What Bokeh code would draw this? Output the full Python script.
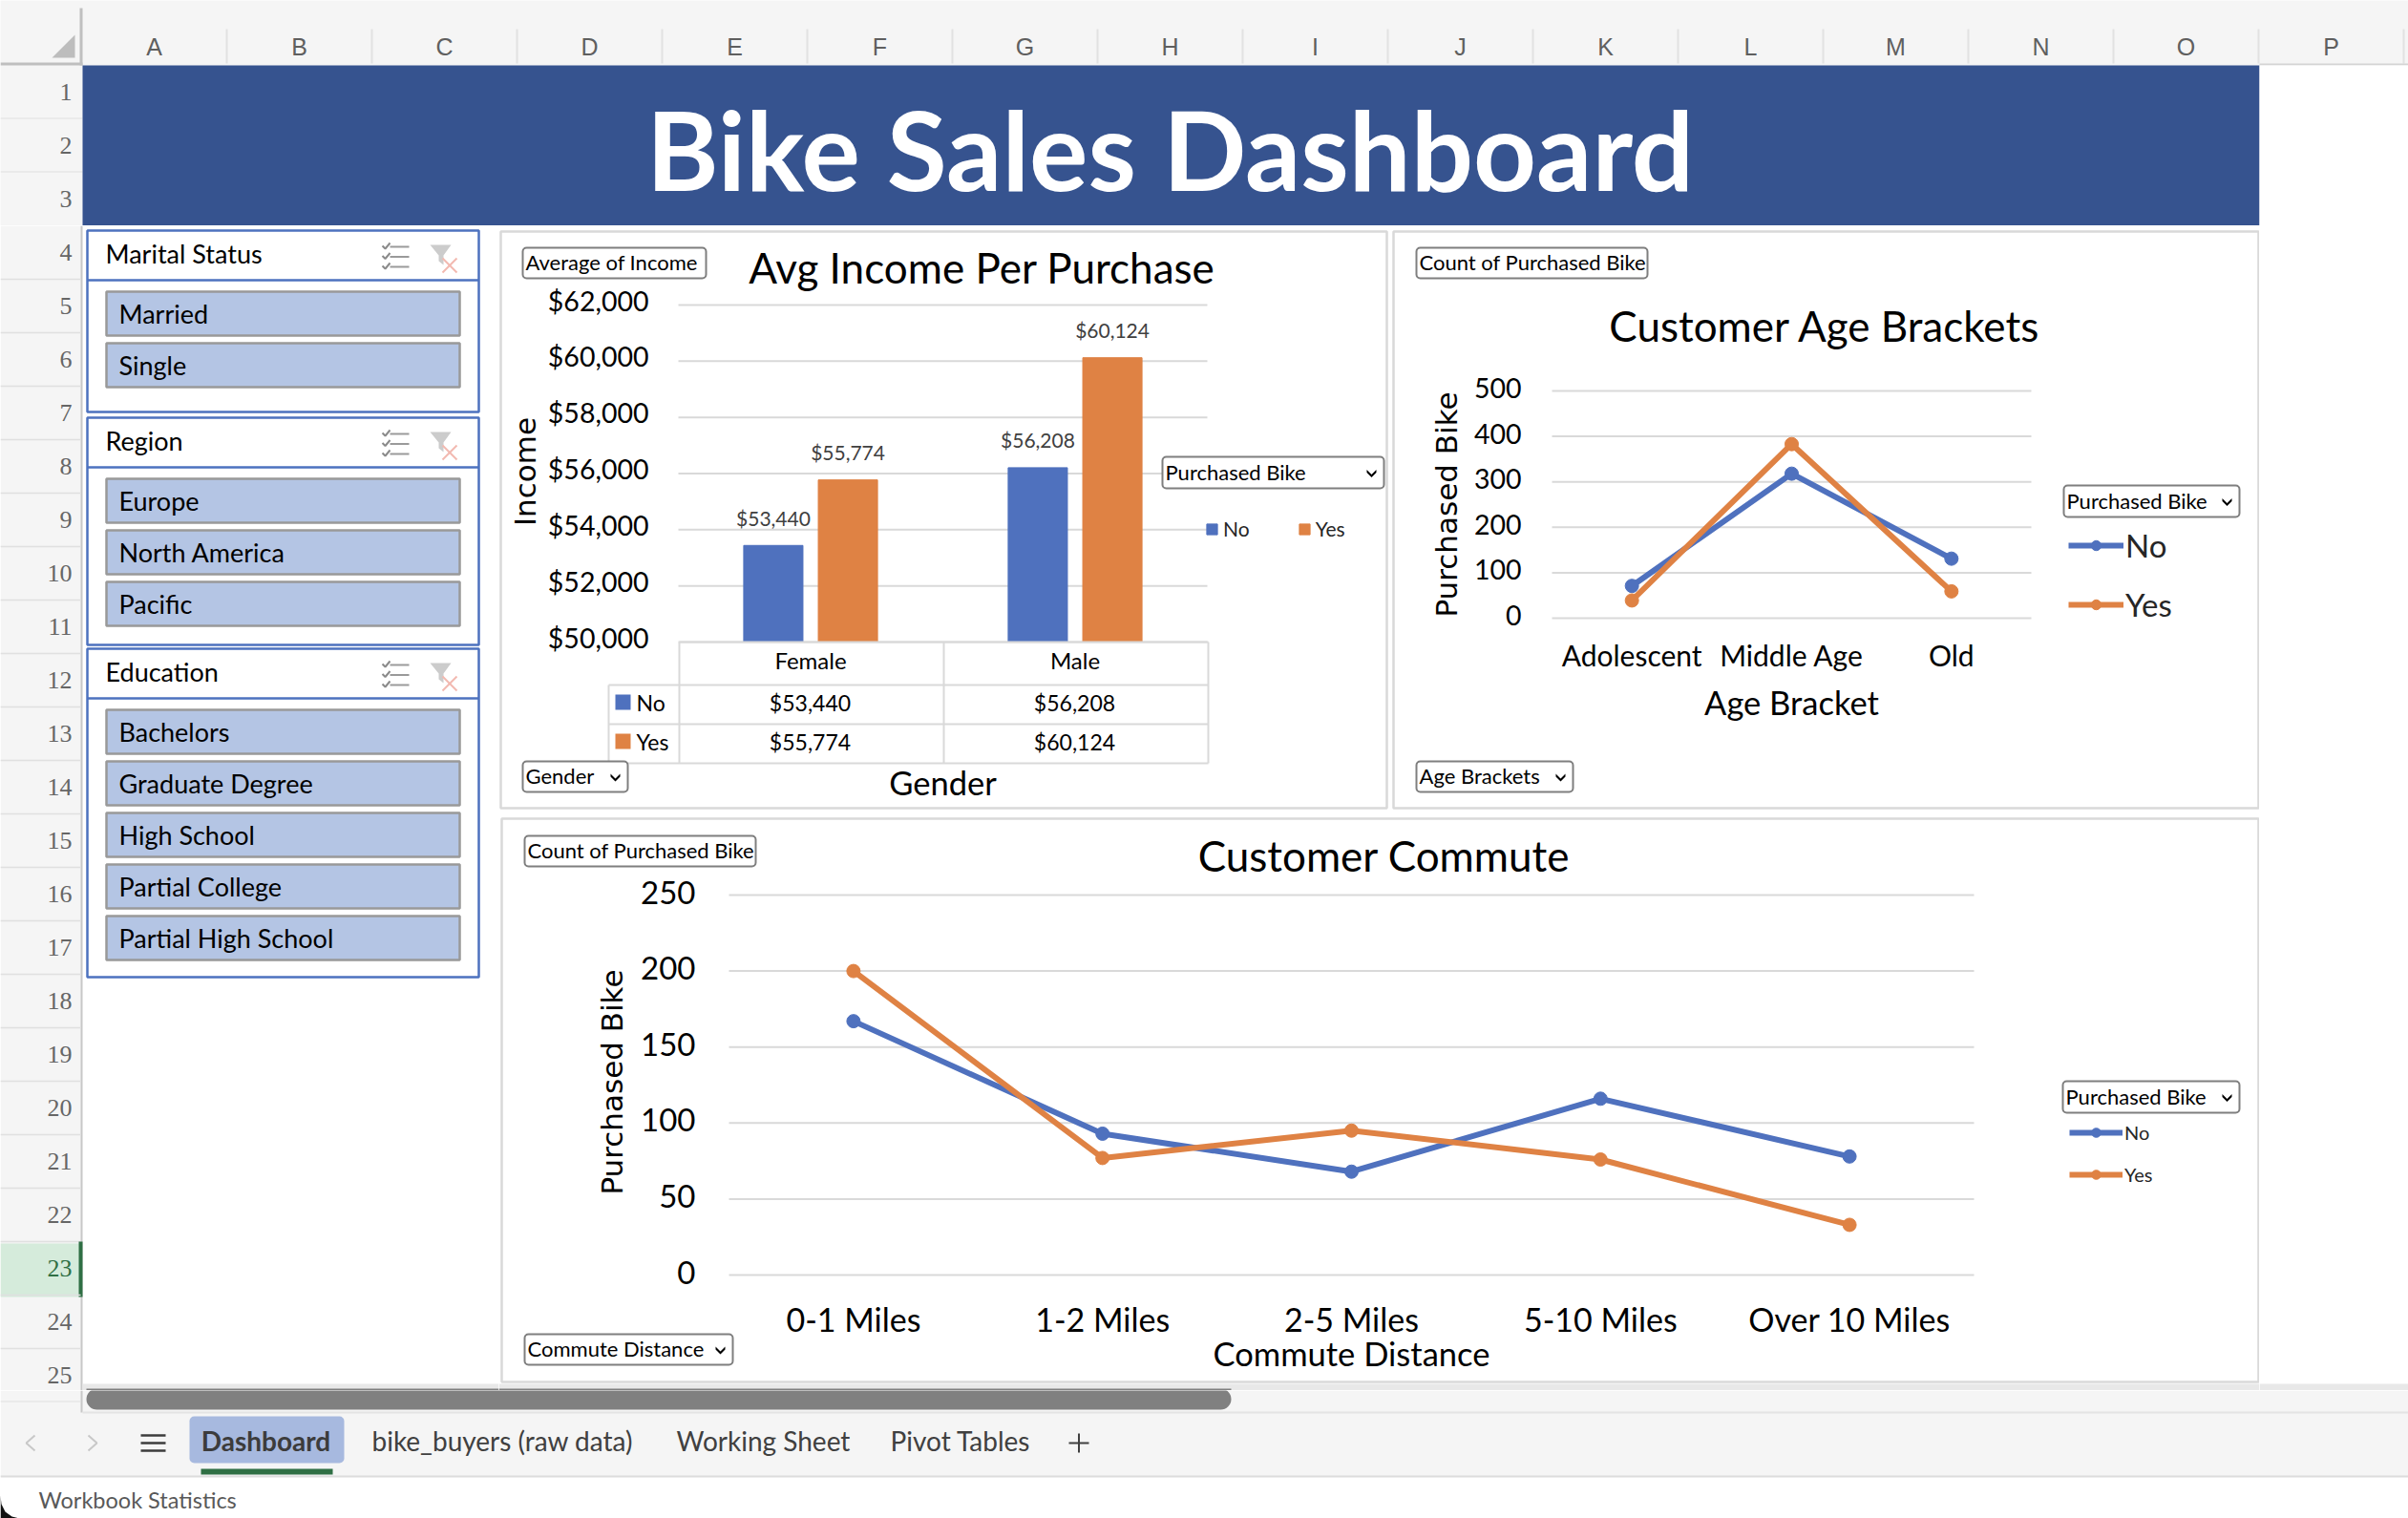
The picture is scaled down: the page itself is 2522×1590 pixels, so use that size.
from bokeh.plotting import figure
from bokeh.layouts import column, row
from bokeh.models import (Range1d, FixedTicker, NumeralTickFormatter, Label, BoxAnnotation,
                          Legend, LegendItem, ColumnDataSource)
from bokeh.core.properties import value
from bokeh.embed import file_html
from bokeh.resources import INLINE

# ---------- data ----------
genders = ["Female", "Male"]
income_no = [53440, 56208]
income_yes = [55774, 60124]
income_ticks = [50000, 52000, 54000, 56000, 58000, 60000, 62000]

age_brackets = ["Adolescent", "Middle Age", "Old"]
age_no = [71, 318, 131]
age_yes = [39, 383, 59]
age_ticks = [0, 100, 200, 300, 400, 500]

commute = ["0-1 Miles", "1-2 Miles", "2-5 Miles", "5-10 Miles", "Over 10 Miles"]
commute_no = [167, 93, 68, 116, 78]
commute_yes = [200, 77, 95, 76, 33]
commute_ticks = [0, 50, 100, 150, 200, 250]

marital = ["Married", "Single"]
regions = ["Europe", "North America", "Pacific"]
education = ["Bachelors", "Graduate Degree", "High School", "Partial College", "Partial High School"]
col_letters = list("ABCDEFGHIJKLMNOP")
sheets = ["bike_buyers (raw data)", "Working Sheet", "Pivot Tables"]

# ---------- style ----------
BLUE, ORANGE = "#4f71be", "#df8244"
GRID = "#d9d9d9"
BAND = "#e8e8e8"
THUMB = "#808080"
FONT = "Lato"
WIDE = "DejaVu Sans"
SPLIT = 1456  # page y where the bottom strip starts


def base(l, t, r, b, bg="white"):
    p = figure(width=r - l, height=b - t, x_range=Range1d(l, r), y_range=Range1d(b, t),
               x_axis_type=None, y_axis_type=None, output_backend="svg", toolbar_location=None,
               min_border=0, outline_line_color=None, background_fill_color=bg, border_fill_color=bg)
    p.grid.visible = False
    return p


def rects(p, l, t, r, b, fill, line=None, lw=0, **kw):
    p.quad(left=[l], right=[r], top=[t], bottom=[b], fill_color=fill,
           line_color=line, line_width=lw, **kw)


def txt(p, x, y, s, size, color="black", align="left", font=FONT, style="normal"):
    p.text([x], [y], text=[s], text_font=value(font), text_font_size=value(f"{size}px"),
           text_color=color, text_align=align, text_baseline="middle", text_font_style=style)


# ---------- top strip ----------
top = base(0, 0, 2522, 236, "#f5f5f5")
for i, c in enumerate(col_letters):
    txt(top, 161 + 152 * i, 48, c, 25, "#5f5f5f", "center", "Liberation Sans")
    top.segment([237 + 152 * i], [30], [237 + 152 * i], [66], color="#e2e2e2", line_width=2)
rects(top, 0, 65, 86, 68, "#bfbfbf")
rects(top, 83, 8, 86, 68, "#bfbfbf")
top.patch([78, 78, 54], [36, 60, 60], fill_color="#bdbdbd", line_color=None)
rects(top, 0, 123, 86, 124, "#e0e0e0")
rects(top, 0, 179, 86, 180, "#e0e0e0")
for i in range(3):
    txt(top, 75, 96 + 56 * i, str(i + 1), 26, "#666666", "right", "Liberation Serif")
rects(top, 86, 68, 2366, 236, "#36538f")
rects(top, 2366, 66, 2522, 68, "#d4d4d4")
rects(top, 2366, 68, 2522, 236, "white")
txt(top, 1225, 154, "Bike Sales Dashboard", 115, "white", "center", FONT, "bold")

# ---------- left strip ----------
left = base(0, 236, 522, SPLIT)
rects(left, 0, 236, 85, SPLIT, "#f5f5f5")
rects(left, 84, 236, 86, SPLIT, "#c8c8c8")
rects(left, 86, 1449, 522, SPLIT, BAND)
rects(left, 90, 1454, 522, SPLIT, THUMB)
for i in range(3, 25):
    y = 68 + 56 * i
    if i + 1 == 23:
        rects(left, 0, y + 2, 84, y + 58, "#d5ebdb")
        rects(left, 82, y, 86, y + 58, "#2f6f44")
        txt(left, 75, y + 28, str(i + 1), 26, "#2f6f44", "right", "Liberation Serif")
    else:
        txt(left, 75, y + 28, str(i + 1), 26, "#666666", "right", "Liberation Serif")
    if y + 56 < SPLIT:
        left.segment([0], [y + 56], [84], [y + 56], color="#e0e0e0", line_width=1.5)


def slicer(title, items, t, b, hdr, tops):
    rects(left, 91, t, 501, b, "white", "#4d72bf", 2.5)
    left.segment([91], [hdr], [501], [hdr], color="#4d72bf", line_width=2.5)
    txt(left, 110, t + (hdr - t) / 2 - 2, title, 27)
    for it, (bt, bb) in zip(items, tops):
        rects(left, 111, bt, 481, bb, "#b4c5e4", "#999999", 2.5)
        txt(left, 124, (bt + bb) / 2, it, 27)
    # select / clear-filter icons
    y0 = t + 17
    left.multi_line([[408, 428]] * 3, [[y0 + k * 10.5] * 2 for k in range(3)], color="#9a9a9a", line_width=2)
    left.multi_line([[400, 403, 408]] * 3,
                    [[y0 + k * 10.5 - 1, y0 + k * 10.5 + 2, y0 + k * 10.5 - 4] for k in range(3)],
                    color="#8a8a8a", line_width=2)
    left.patch([450, 472, 464, 464, 459, 459], [y0 - 2, y0 - 2, y0 + 9, y0 + 19, y0 + 15, y0 + 9],
               fill_color="#cccccc", line_color=None)
    left.multi_line([[463, 478], [463, 478]], [[y0 + 12, y0 + 27], [y0 + 27, y0 + 12]],
                    color="#f2b9b0", line_width=2)


slicer("Marital Status", marital, 241, 431, 293, [(305, 351), (359, 405)])
slicer("Region", regions, 437, 675, 489, [(501, 547), (555, 601), (609, 655)])
slicer("Education", education, 679, 1023, 731,
       [(743, 789), (797, 843), (851, 897), (905, 951), (959, 1005)])

# ---------- right strip (empty column P) ----------
right = base(2366, 236, 2522, SPLIT)
rects(right, 2366, 1449, 2522, SPLIT, BAND)


# ---------- chart helpers ----------
def extend(a0, a1, v0, v1, o0, o1, shift=0):
    """Data range that keeps v0..v1 on pixels a0..a1 when the frame spans pixels o0..o1."""
    k = (v1 - v0) / (a1 - a0)
    return Range1d(v0 + (o0 - a0 + shift) * k, v0 + (o1 - a0 + shift) * k)


def chart(outer, frame, cats, ymin, ymax, ticks, xlabel, ylabel, yfmt=None, ytick="33px", xtick="33px",
          label_standoff=30, title_standoff=10, y_standoff=30, ytitle_standoff=6, lift=3, title_drop=0):
    l, t, r, b = outer
    fl, ft, fr, fb = frame
    n = len(cats)
    p = figure(width=r - l, height=b - t,
               x_range=extend(fl, fr, 0, n, l, r), y_range=extend(fb, ft, ymin, ymax, b, t),
               min_border=0, output_backend="svg", toolbar_location=None, outline_line_color=None)
    p.extra_x_ranges["px"] = Range1d(l, r)
    p.extra_y_ranges["px"] = Range1d(b, t)
    # tick labels sit a few pixels above their rules, as in the reference
    p.extra_y_ranges["ticks"] = extend(fb, ft, ymin, ymax, b, t, shift=lift)
    p.yaxis.y_range_name = "ticks"
    p.grid.visible = False
    p.segment(x0=[0] * len(ticks), x1=[n] * len(ticks), y0=ticks, y1=ticks,
              line_color=GRID, line_width=2, level="underlay")
    p.yaxis.ticker = FixedTicker(ticks=ticks)
    p.xaxis.ticker = FixedTicker(ticks=[i + 0.5 for i in range(n)])
    p.xaxis.major_label_overrides = {i + 0.5: c for i, c in enumerate(cats)}
    p.xaxis.fixed_location = ymin
    p.yaxis.fixed_location = 0
    p.xaxis.bounds = (0, n)
    k = (ymax - ymin) / (fb - ft)
    p.yaxis.bounds = (ymin - 2 * title_drop * k, ymax)  # centres the axis title
    if yfmt:
        p.yaxis.formatter = NumeralTickFormatter(format=yfmt)
    for ax in (p.xaxis[0], p.yaxis[0]):
        ax.axis_line_color = None
        ax.major_tick_line_color = None
        ax.minor_tick_line_color = None
        ax.major_label_text_font = FONT
        ax.major_label_text_color = "black"
        ax.axis_label_text_font_style = "normal"
        ax.axis_label_text_color = "black"
    p.xaxis.major_label_text_font_size = xtick
    p.yaxis.major_label_text_font_size = ytick
    p.xaxis.axis_label = xlabel
    p.xaxis.axis_label_text_font = FONT
    p.xaxis.axis_label_text_font_size = "34.5px"
    p.xaxis.major_label_standoff = label_standoff
    p.xaxis.axis_label_standoff = title_standoff
    p.yaxis.axis_label = ylabel
    p.yaxis.axis_label_text_font = WIDE
    p.yaxis.axis_label_text_font_size = "31px"
    p.yaxis.major_label_standoff = y_standoff
    p.yaxis.axis_label_standoff = ytitle_standoff
    return p


def box(p, l, t, r, b, fill="white", line="#7f7f7f", lw=2, radius=4):
    p.add_layout(BoxAnnotation(left=l, right=r, top=t, bottom=b, x_range_name="px", y_range_name="px",
                               fill_color=fill, fill_alpha=1 if fill else 0, line_color=line, line_alpha=1,
                               line_width=lw, border_radius=radius))


def lab(p, x, y, s, size=22, color="black", align="left", font=FONT):
    p.add_layout(Label(x=x, y=y, text=s, x_range_name="px", y_range_name="px", text_font=font,
                       text_font_size=f"{size}px", text_color=color, text_align=align, text_baseline="middle"))


def dropdown(p, l, t, r, b, s, chevron=True):
    box(p, l, t, r, b)
    lab(p, l + 3, (t + b) / 2 - 1, s)
    if chevron:
        cx, cy = r - 13, (t + b) / 2
        p.patch([cx - 5, cx, cx + 5, cx + 5, cx, cx - 5], [cy - 3, cy + 2, cy - 3, cy, cy + 5, cy],
                x_range_name="px", y_range_name="px", fill_color="black", line_color=None, level="overlay")


def legend(p, items, loc, size, gw, gh, spacing, orient="vertical", standoff=2):
    p.add_layout(Legend(items=[LegendItem(label=n, renderers=r) for n, r in items], location=loc,
                        orientation=orient, spacing=spacing, padding=0, margin=0,
                        background_fill_alpha=0, border_line_alpha=0, label_standoff=standoff,
                        glyph_width=gw, glyph_height=gh, label_text_font=FONT,
                        label_text_font_size=f"{size}px", label_text_color="#262626"))


def series(p, cats, y, c, lw=6, size=14):
    x = [i + 0.5 for i in range(len(cats))]
    l = p.line(x, y, line_color=c, line_width=lw)
    m = p.scatter(x, y, size=size, marker="circle", fill_color=c, line_color=c)
    return [l, m]


# ---------- chart 1 ----------
c1 = chart((522, 236, 1456, 852), (710, 319, 1264, 672), genders, 50000, 62000, income_ticks,
           "Gender", "Income", "$0,0", ytick="28.5px", xtick="24px",
           label_standoff=-2, title_standoff=90, y_standoff=25, ytitle_standoff=3, lift=5, title_drop=3)
box(c1, 524, 242, 1452, 846, None, GRID, 2.5, 0)
OFF, BW = 0.141, 0.224
src = ColumnDataSource(dict(xno=[i + 0.5 - OFF for i in range(2)], xyes=[i + 0.5 + OFF for i in range(2)],
                            no=income_no, yes=income_yes,
                            no_t=[f"${v:,}" for v in income_no], yes_t=[f"${v:,}" for v in income_yes]))
r_no = c1.vbar(x="xno", top="no", bottom=50000, width=BW, source=src, color=BLUE)
r_yes = c1.vbar(x="xyes", top="yes", bottom=50000, width=BW, source=src, color=ORANGE)
for xc, col, tx in (("xno", "no", "no_t"), ("xyes", "yes", "yes_t")):
    c1.text(x=xc, y=col, text=tx, source=src, y_offset=-29,
            text_font=value(FONT), text_font_size=value("21px"), text_color="#404040",
            text_align="center", text_baseline="middle")
# data table under the plot
for y, xa, xb in ((672, 711, 1265), (717, 637, 1265), (758, 637, 1265), (799, 637, 1265)):
    box(c1, xa, y - 1, xb, y + 1, GRID, None, 0, 0)
for x, ya, yb in ((711, 672, 799), (988, 672, 799), (1265, 672, 799), (637, 717, 799)):
    box(c1, x - 1, ya, x + 1, yb, GRID, None, 0, 0)
for yc, name, colr, vals in ((735, "No", BLUE, income_no), (776, "Yes", ORANGE, income_yes)):
    box(c1, 644, yc - 8, 660, yc + 8, colr, None, 0, 0)
    lab(c1, 666, yc, name, 23)
    for xc, v in zip((848, 1125), vals):
        lab(c1, xc, yc, f"${v:,}", 23, "black", "center")
lab(c1, 1028, 279, "Avg Income Per Purchase", 44, "black", "center")
dropdown(c1, 547, 259, 739, 291, "Average of Income", False)
dropdown(c1, 547, 797, 657, 829, "Gender")
dropdown(c1, 1217, 478, 1449, 511, "Purchased Bike")
legend(c1, [("No", [r_no]), ("Yes", [r_yes])], (740, 286), 21, 14, 14, 50, "horizontal", 5)

# ---------- chart 2 ----------
c2 = chart((1456, 236, 2366, 852), (1625, 409, 2127, 647), age_brackets, 0, 500, age_ticks,
           "Age Bracket", "Purchased Bike", ytick="28.5px", xtick="30px",
           label_standoff=14, title_standoff=8, y_standoff=26, ytitle_standoff=8, title_drop=3)
box(c2, 1459, 242, 2365, 846, None, GRID, 2.5, 0)
s_no = series(c2, age_brackets, age_no, BLUE)
s_yes = series(c2, age_brackets, age_yes, ORANGE)
lab(c2, 1911, 340, "Customer Age Brackets", 44, "black", "center")
dropdown(c2, 1483, 259, 1725, 291, "Count of Purchased Bike", False)
dropdown(c2, 1483, 797, 1647, 829, "Age Brackets")
dropdown(c2, 2161, 508, 2345, 541, "Purchased Bike")
legend(c2, [("No", s_no), ("Yes", s_yes)], (710, 199), 33, 58, 26, 22)

# ---------- chart 3 ----------
c3 = chart((522, 852, 2366, SPLIT), (763, 937, 2067, 1335), commute, 0, 250, commute_ticks,
           "Commute Distance", "Purchased Bike", ytick="33px", xtick="34px",
           label_standoff=19, title_standoff=-8, y_standoff=29, ytitle_standoff=9)
box(c3, 525, 857, 2365, 1447, None, GRID, 2.5, 0)
box(c3, 522, 1449, 2366, SPLIT, BAND, None, 0, 0)
box(c3, 522, 1454, 1289, SPLIT, THUMB, None, 0, 0)
s3_no = series(c3, commute, commute_no, BLUE)
s3_yes = series(c3, commute, commute_yes, ORANGE)
lab(c3, 1449, 895, "Customer Commute", 44, "black", "center")
dropdown(c3, 549, 875, 791, 907, "Count of Purchased Bike", False)
dropdown(c3, 549, 1397, 767, 1429, "Commute Distance")
dropdown(c3, 2160, 1132, 2345, 1165, "Purchased Bike")
legend(c3, [("No", s3_no), ("Yes", s3_yes)], (1645, 214), 20, 56, 24, 20)

# ---------- bottom strip ----------
bot = base(0, SPLIT, 2522, 1590)
rects(bot, 0, SPLIT, 2522, 1546, "#f5f5f5")
rects(bot, 84, SPLIT, 86, 1479, "#c8c8c8")
rects(bot, 0, 1467, 84, 1468, "#e0e0e0")
rects(bot, 86, 1478, 2522, 1480, "#e4e4e4")
rects(bot, 0, 1545, 2522, 1547, "#dcdcdc")
bot.add_layout(BoxAnnotation(left=90, right=1289, top=1454, bottom=1476, fill_color=THUMB, fill_alpha=1,
                             line_color=None, border_radius=11))
bot.add_layout(BoxAnnotation(left=198, right=360, top=1483, bottom=1532, fill_color="#a7b9df", fill_alpha=1,
                             line_color=None, border_radius=5))
rects(bot, 210, 1538, 348, 1544, "#2f6f44")
bot.add_layout(Label(x=278, y=1508, text="Dashboard", text_font=FONT, text_font_size="28px", text_color="#3c3c3c",
                     text_font_style="bold", text_align="center", text_baseline="middle"))
for s, x in zip(sheets, (389, 708, 932)):
    txt(bot, x, 1508, s, 28, "#404040")
bot.multi_line([[36, 27, 36], [92, 101, 92]], [[1503, 1511, 1519], [1503, 1511, 1519]], color="#c8c8c8", line_width=2)
bot.multi_line([[147, 173]] * 3, [[1503, 1503], [1511, 1511], [1519, 1519]], color="#3c3c3c", line_width=2.5)
bot.multi_line([[1119, 1140], [1129.5, 1129.5]], [[1511, 1511], [1501, 1521]], color="#404040", line_width=2)
txt(bot, 40, 1570, "Workbook Statistics", 23.5, "#595959")
bot.patch([0, 1, 5, 12, 20, 0], [1566, 1575, 1583, 1588, 1590, 1590], fill_color="#111111", line_color=None)

page = column(top, row(left, column(row(c1, c2, spacing=0), c3, spacing=0), right, spacing=0), bot, spacing=0)
open("out.html", "w").write(file_html(page, INLINE))
